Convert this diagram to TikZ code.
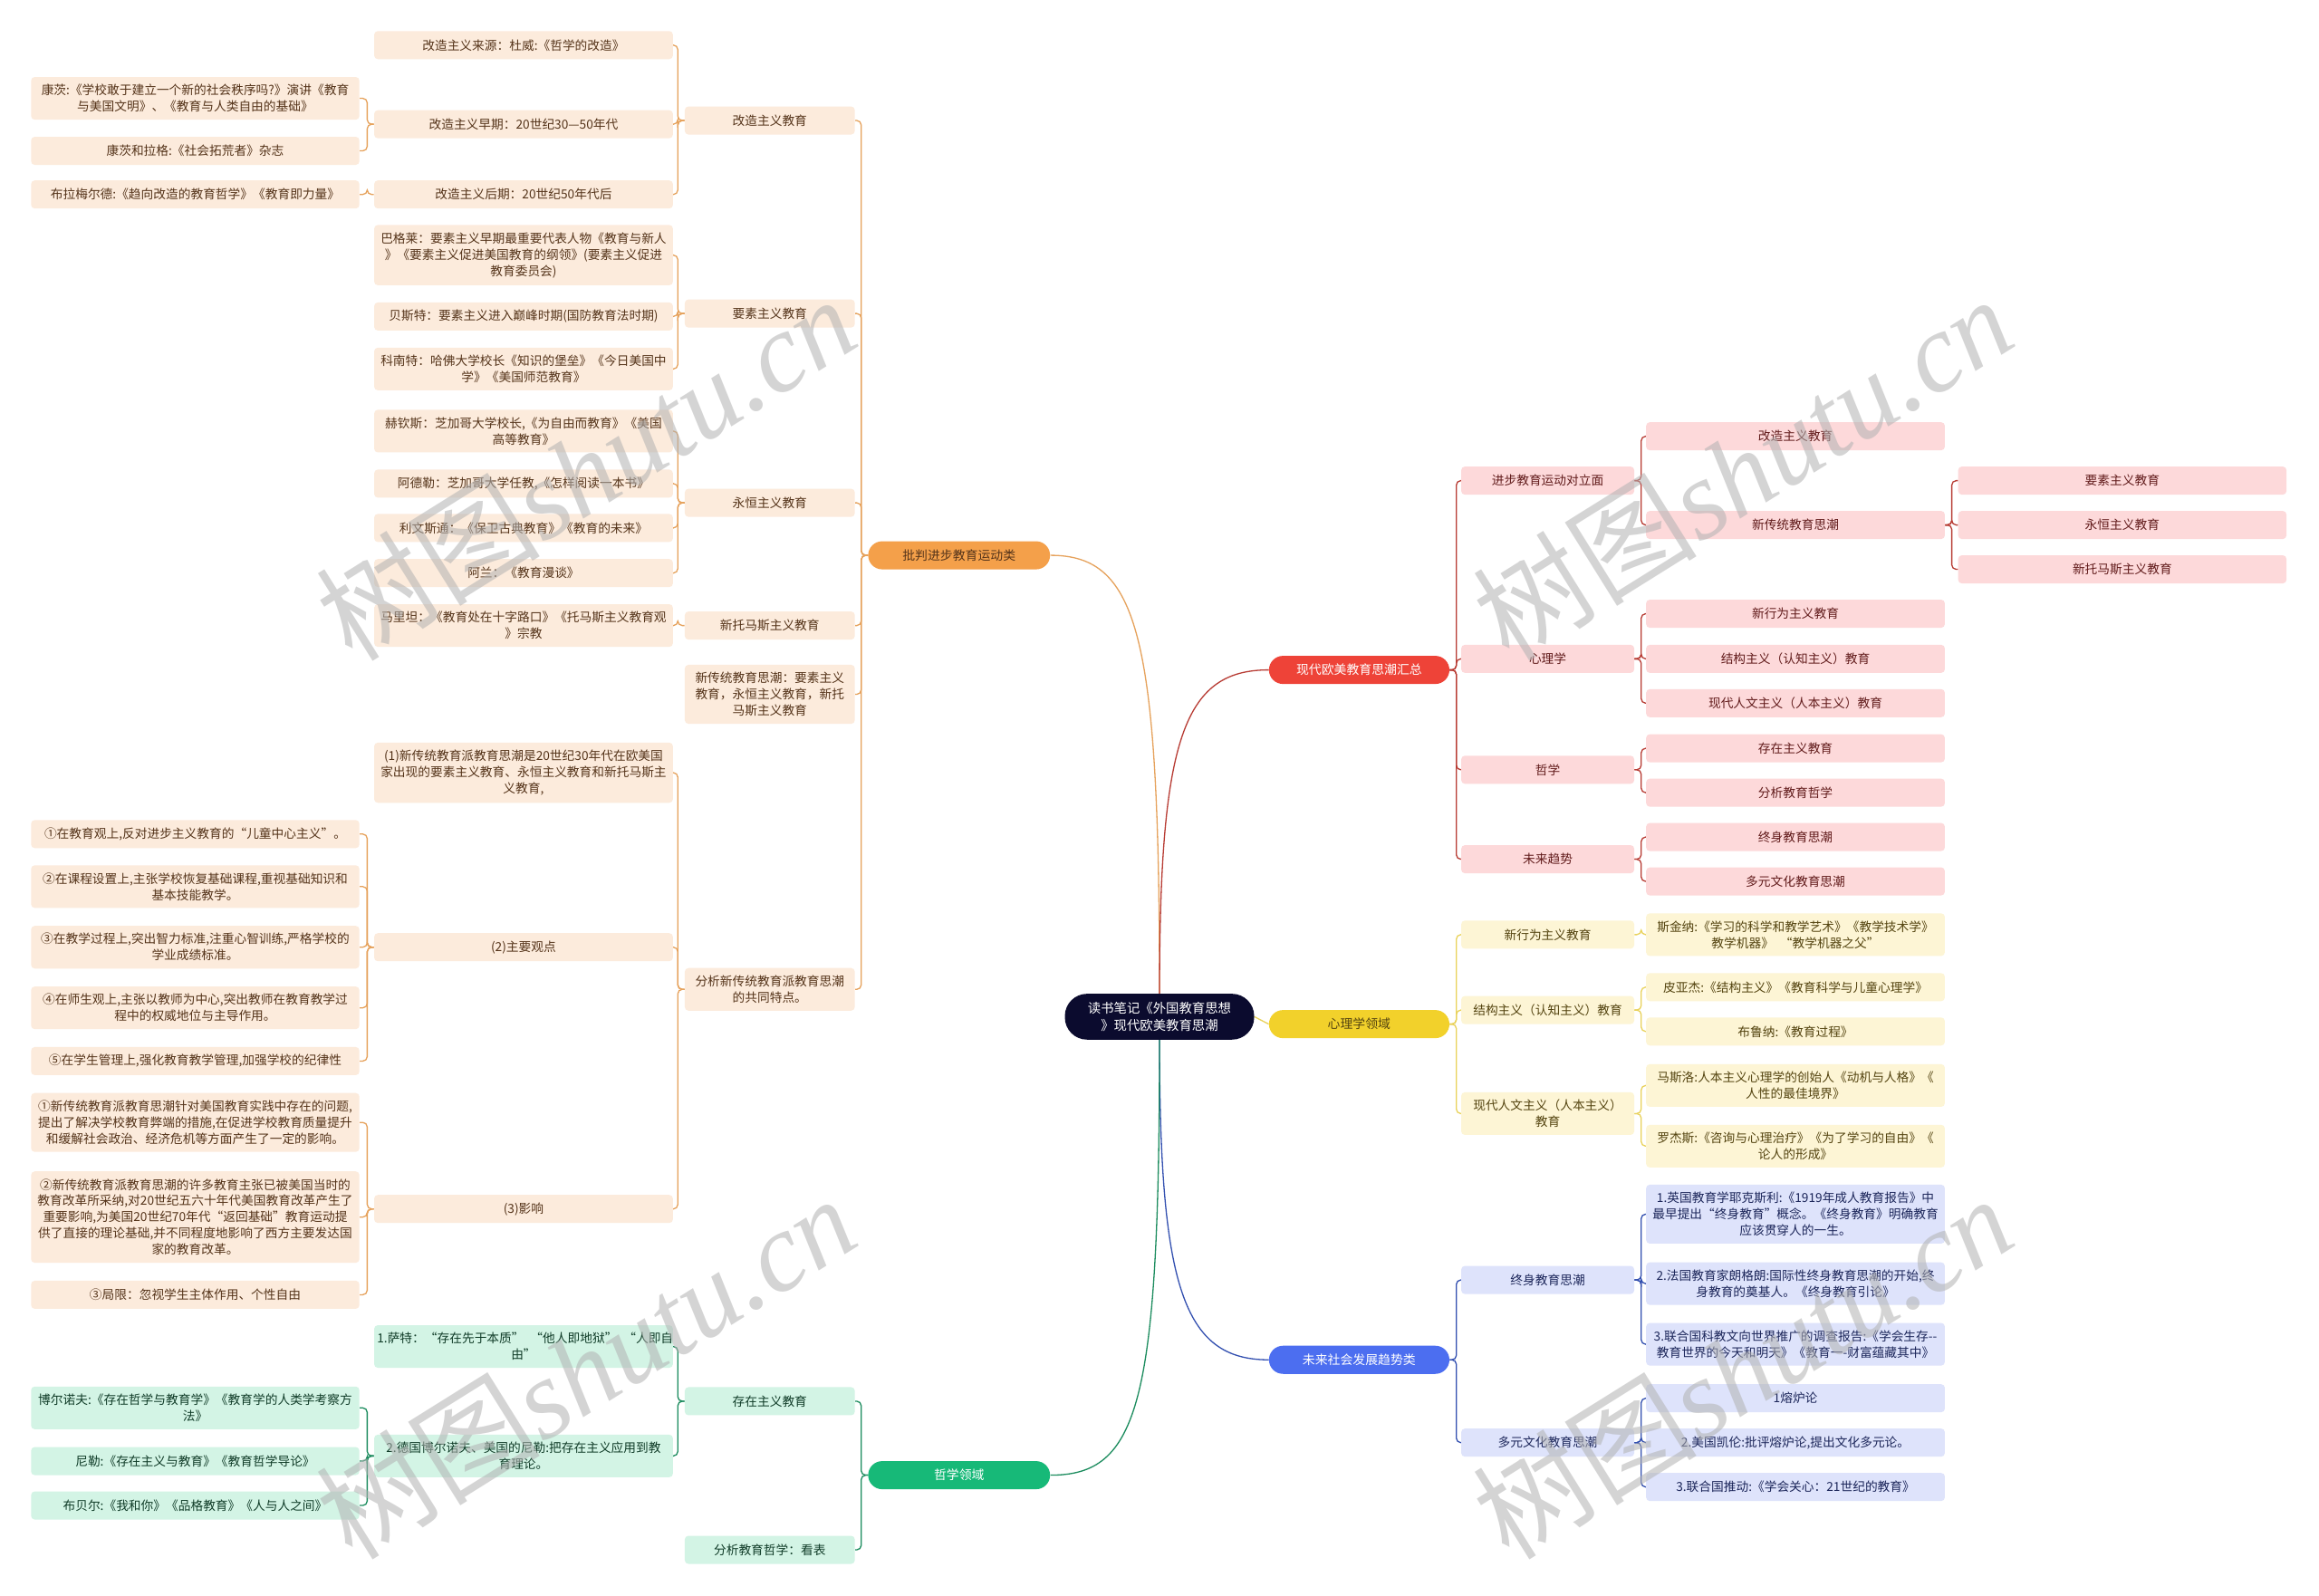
\documentclass[tikz,border=0pt]{standalone}
\usepackage{fontspec}
\newfontfamily\cjk{Noto Sans CJK SC}
\newfontfamily\wmlat{Liberation Serif}
\definecolor{oBox}{HTML}{FCEBDC}
\definecolor{oTxt}{HTML}{55341A}
\definecolor{oLine}{HTML}{E6A25C}
\definecolor{oPill}{HTML}{F4A04A}
\definecolor{rBox}{HTML}{FDD9DA}
\definecolor{rTxt}{HTML}{621C1C}
\definecolor{rLine}{HTML}{B83C34}
\definecolor{rPill}{HTML}{EE4338}
\definecolor{yBox}{HTML}{FDF5D5}
\definecolor{yTxt}{HTML}{544410}
\definecolor{yLine}{HTML}{E9D25B}
\definecolor{yPill}{HTML}{F2D12B}
\definecolor{bBox}{HTML}{DEE3FB}
\definecolor{bTxt}{HTML}{1C265A}
\definecolor{bLine}{HTML}{3350B0}
\definecolor{bPill}{HTML}{4C6EF0}
\definecolor{gBox}{HTML}{D3F4E5}
\definecolor{gTxt}{HTML}{103C28}
\definecolor{gLine}{HTML}{1C8C5E}
\definecolor{gPill}{HTML}{17B978}
\definecolor{rootC}{HTML}{0B0B2E}
\newcommand\Lcon[3]{\draw[#1] (#2.west) -- ++(-4.5,0) |- (#3.east);}
\newcommand\Rcon[3]{\draw[#1] (#2.east) -- ++(4.5,0) |- (#3.west);}
\tikzset{
  base/.style={rounded corners=2.5pt, inner xsep=2pt, inner ysep=5pt, minimum height=19pt, align=center, font=\cjk\fontsize{8.4}{11}\selectfont},
  pill/.style={rounded corners=9.5pt, minimum width=123pt, minimum height=19pt, inner sep=2pt, align=center, font=\cjk\fontsize{8.5}{11}\selectfont},
  ob/.style={base, fill=oBox, text=oTxt},
  rb/.style={base, fill=rBox, text=rTxt},
  yb/.style={base, fill=yBox, text=yTxt},
  bb/.style={base, fill=bBox, text=bTxt},
  gb/.style={base, fill=gBox, text=gTxt},
  LA/.style={text width=218pt},
  LB/.style={text width=198pt},
  LC/.style={text width=111pt},
  RA/.style={text width=113pt},
  RB/.style={text width=198pt},
  RC/.style={text width=218pt},
  oline/.style={draw=oLine, line width=0.8pt, rounded corners=3pt},
  rline/.style={draw=rLine, line width=0.8pt, rounded corners=3pt},
  yline/.style={draw=yLine, line width=0.8pt, rounded corners=3pt},
  bline/.style={draw=bLine, line width=0.8pt, rounded corners=3pt},
  gline/.style={draw=gLine, line width=0.8pt, rounded corners=3pt},
  wmark/.style={rotate=32, text=black!30, opacity=0.55, inner sep=0pt},
}
\begin{document}
\begin{tikzpicture}[x=1pt, y=-1pt]
\useasboundingbox (0,0) rectangle (1568,1079);
\fill[white] (0,0) rectangle (1568,1079);

% root
\node[rounded corners=15pt, fill=rootC, text=white, minimum width=128pt, minimum height=31pt, inner sep=2pt, align=center, font=\cjk\fontsize{8.8}{11.5}\selectfont] (root) at (784,687.5) {读书笔记《外国教育思想\\》现代欧美教育思潮};

% main pills
\node[pill, fill=oPill, text=oTxt] (op) at (648.5,375.5) {批判进步教育运动类};
\node[pill, fill=gPill, text=white] (gp) at (648.5,997.5) {哲学领域};
\node[pill, fill=rPill, text=white, minimum width=122pt] (rp) at (919,453) {现代欧美教育思潮汇总};
\node[pill, fill=yPill, text=yTxt, minimum width=122pt] (yp) at (919,692.5) {心理学领域};
\node[pill, fill=bPill, text=white, minimum width=122pt] (bp) at (919,919.5) {未来社会发展趋势类};

\draw[oline] (root.north) .. controls (784,430) and (770,375.5) .. (op.east);
\draw[rline] (root.north) .. controls (784,500) and (800,453) .. (rp.west);
\draw[yline] (root.east) -- (yp.west);
\draw[bline] (root.south) .. controls (784,870) and (800,919.5) .. (bp.west);
\draw[gline] (root.south) .. controls (784,950) and (770,997.5) .. (gp.east);

% ===== orange branch =====
\node[ob, LC] (o1) at (520.5,81.5) {改造主义教育};
\node[ob, LC] (o2) at (520.5,212) {要素主义教育};
\node[ob, LC] (o3) at (520.5,340) {永恒主义教育};
\node[ob, LC] (o4) at (520.5,423) {新托马斯主义教育};
\node[ob, LC] (o5) at (520.5,469.5) {新传统教育思潮：要素主义\\教育，永恒主义教育，新托\\马斯主义教育};
\node[ob, LC] (o6) at (520.5,669) {分析新传统教育派教育思潮\\的共同特点。};
\foreach \c in {o1,o2,o3,o4,o5,o6} {\Lcon{oline}{op}{\c}}

\node[ob, LB] (o11) at (354,30.5) {改造主义来源：杜威:《哲学的改造》};
\node[ob, LB] (o12) at (354,84) {改造主义早期：20世纪30—50年代};
\node[ob, LB] (o13) at (354,131.5) {改造主义后期：20世纪50年代后};
\foreach \c in {o11,o12,o13} {\Lcon{oline}{o1}{\c}}

\node[ob, LB] (o21) at (354,172.5) {巴格莱：要素主义早期最重要代表人物《教育与新人\\》《要素主义促进美国教育的纲领》(要素主义促进\\教育委员会)};
\node[ob, LB] (o22) at (354,214) {贝斯特：要素主义进入巅峰时期(国防教育法时期)};
\node[ob, LB] (o23) at (354,249.5) {科南特：哈佛大学校长《知识的堡垒》《今日美国中\\学》《美国师范教育》};
\foreach \c in {o21,o22,o23} {\Lcon{oline}{o2}{\c}}

\node[ob, LB] (o31) at (354,291.5) {赫钦斯：芝加哥大学校长,《为自由而教育》《美国\\高等教育》};
\node[ob, LB] (o32) at (354,327) {阿德勒：芝加哥大学任教,《怎样阅读一本书》};
\node[ob, LB] (o33) at (354,357) {利文斯通：《保卫古典教育》《教育的未来》};
\node[ob, LB] (o34) at (354,387.5) {阿兰：《教育漫谈》};
\foreach \c in {o31,o32,o33,o34} {\Lcon{oline}{o3}{\c}}

\node[ob, LB] (o41) at (354,423) {马里坦：《教育处在十字路口》《托马斯主义教育观\\》宗教};
\Lcon{oline}{o4}{o41}

\node[ob, LB] (o61) at (354,522.5) {(1)新传统教育派教育思潮是20世纪30年代在欧美国\\家出现的要素主义教育、永恒主义教育和新托马斯主\\义教育,};
\node[ob, LB] (o62) at (354,640.5) {(2)主要观点};
\node[ob, LB] (o63) at (354,817.5) {(3)影响};
\foreach \c in {o61,o62,o63} {\Lcon{oline}{o6}{\c}}

\node[ob, LA] (o121) at (132,66.5) {康茨:《学校敢于建立一个新的社会秩序吗?》演讲《教育\\与美国文明》、《教育与人类自由的基础》};
\node[ob, LA] (o122) at (132,102) {康茨和拉格:《社会拓荒者》杂志};
\foreach \c in {o121,o122} {\Lcon{oline}{o12}{\c}}
\node[ob, LA] (o131) at (132,131.5) {布拉梅尔德:《趋向改造的教育哲学》《教育即力量》};
\Lcon{oline}{o13}{o131}

\node[ob, LA] (o621) at (132,564) {①在教育观上,反对进步主义教育的“儿童中心主义”。};
\node[ob, LA] (o622) at (132,599.5) {②在课程设置上,主张学校恢复基础课程,重视基础知识和\\基本技能教学。};
\node[ob, LA] (o623) at (132,640.5) {③在教学过程上,突出智力标准,注重心智训练,严格学校的\\学业成绩标准。};
\node[ob, LA] (o624) at (132,681.5) {④在师生观上,主张以教师为中心,突出教师在教育教学过\\程中的权威地位与主导作用。};
\node[ob, LA] (o625) at (132,717.5) {⑤在学生管理上,强化教育教学管理,加强学校的纪律性};
\foreach \c in {o621,o622,o623,o624,o625} {\Lcon{oline}{o62}{\c}}

\node[ob, LA] (o631) at (132,759) {①新传统教育派教育思潮针对美国教育实践中存在的问题,\\提出了解决学校教育弊端的措施,在促进学校教育质量提升\\和缓解社会政治、经济危机等方面产生了一定的影响。};
\node[ob, LA] (o632) at (132,823) {②新传统教育派教育思潮的许多教育主张已被美国当时的\\教育改革所采纳,对20世纪五六十年代美国教育改革产生了\\重要影响,为美国20世纪70年代“返回基础”教育运动提\\供了直接的理论基础,并不同程度地影响了西方主要发达国\\家的教育改革。};
\node[ob, LA] (o633) at (132,875.5) {③局限：忽视学生主体作用、个性自由};
\foreach \c in {o631,o632,o633} {\Lcon{oline}{o63}{\c}}

% ===== green branch =====
\node[gb, LC] (g1) at (520.5,947.5) {存在主义教育};
\node[gb, LC] (g2) at (520.5,1048) {分析教育哲学：看表};
\foreach \c in {g1,g2} {\Lcon{gline}{gp}{\c}}
\node[gb, LB] (g11) at (354,910.5) {1.萨特：“存在先于本质”\enspace“他人即地狱”\enspace“人即自\\由”};
\node[gb, LB] (g12) at (354,984.5) {2.德国博尔诺夫、美国的尼勒:把存在主义应用到教\\育理论。};
\foreach \c in {g11,g12} {\Lcon{gline}{g1}{\c}}
\node[gb, LA] (g121) at (132,952) {博尔诺夫:《存在哲学与教育学》《教育学的人类学考察方\\法》};
\node[gb, LA] (g122) at (132,988) {尼勒:《存在主义与教育》《教育哲学导论》};
\node[gb, LA] (g123) at (132,1018) {布贝尔:《我和你》《品格教育》《人与人之间》};
\foreach \c in {g121,g122,g123} {\Lcon{gline}{g12}{\c}}

% ===== red branch =====
\node[rb, RA] (r1) at (1046.5,325) {进步教育运动对立面};
\node[rb, RA] (r2) at (1046.5,445.5) {心理学};
\node[rb, RA] (r3) at (1046.5,520.5) {哲学};
\node[rb, RA] (r4) at (1046.5,581) {未来趋势};
\foreach \c in {r1,r2,r3,r4} {\Rcon{rline}{rp}{\c}}
\node[rb, RB] (r11) at (1214,295) {改造主义教育};
\node[rb, RB] (r12) at (1214,355) {新传统教育思潮};
\foreach \c in {r11,r12} {\Rcon{rline}{r1}{\c}}
\node[rb, RB] (r21) at (1214,415) {新行为主义教育};
\node[rb, RB] (r22) at (1214,445.5) {结构主义（认知主义）教育};
\node[rb, RB] (r23) at (1214,475.5) {现代人文主义（人本主义）教育};
\foreach \c in {r21,r22,r23} {\Rcon{rline}{r2}{\c}}
\node[rb, RB] (r31) at (1214,506) {存在主义教育};
\node[rb, RB] (r32) at (1214,536) {分析教育哲学};
\foreach \c in {r31,r32} {\Rcon{rline}{r3}{\c}}
\node[rb, RB] (r41) at (1214,566) {终身教育思潮};
\node[rb, RB] (r42) at (1214,596) {多元文化教育思潮};
\foreach \c in {r41,r42} {\Rcon{rline}{r4}{\c}}
\node[rb, RC] (r121) at (1435,325) {要素主义教育};
\node[rb, RC] (r122) at (1435,355) {永恒主义教育};
\node[rb, RC] (r123) at (1435,385) {新托马斯主义教育};
\foreach \c in {r121,r122,r123} {\Rcon{rline}{r12}{\c}}

% ===== yellow branch =====
\node[yb, RA] (y1) at (1046.5,632) {新行为主义教育};
\node[yb, RA] (y2) at (1046.5,683) {结构主义（认知主义）教育};
\node[yb, RA] (y3) at (1046.5,753) {现代人文主义（人本主义）\\教育};
\foreach \c in {y1,y2,y3} {\Rcon{yline}{yp}{\c}}
\node[yb, RB] (y11) at (1214,632) {斯金纳:《学习的科学和教学艺术》《教学技术学》\\教学机器》\enspace“教学机器之父”};
\Rcon{yline}{y1}{y11}
\node[yb, RB] (y21) at (1214,667.5) {皮亚杰:《结构主义》《教育科学与儿童心理学》};
\node[yb, RB] (y22) at (1214,697.5) {布鲁纳:《教育过程》};
\foreach \c in {y21,y22} {\Rcon{yline}{y2}{\c}}
\node[yb, RB] (y31) at (1214,734) {马斯洛:人本主义心理学的创始人《动机与人格》《\\人性的最佳境界》};
\node[yb, RB] (y32) at (1214,775) {罗杰斯:《咨询与心理治疗》《为了学习的自由》《\\论人的形成》};
\foreach \c in {y31,y32} {\Rcon{yline}{y3}{\c}}

% ===== blue branch =====
\node[bb, RA] (u1) at (1046.5,865.5) {终身教育思潮};
\node[bb, RA] (u2) at (1046.5,975.5) {多元文化教育思潮};
\foreach \c in {u1,u2} {\Rcon{bline}{bp}{\c}}
\node[bb, RB] (u11) at (1214,821) {1.英国教育学耶克斯利:《1919年成人教育报告》中\\最早提出“终身教育”概念。《终身教育》明确教育\\应该贯穿人的一生。};
\node[bb, RB] (u12) at (1214,868) {2.法国教育家朗格朗:国际性终身教育思潮的开始,终\\身教育的奠基人。《终身教育引论》};
\node[bb, RB] (u13) at (1214,909) {3.联合国科教文向世界推广的调查报告:《学会生存--\\教育世界的今天和明天》《教育一-财富蕴藏其中》};
\foreach \c in {u11,u12,u13} {\Rcon{bline}{u1}{\c}}
\node[bb, RB] (u21) at (1214,945.5) {1熔炉论};
\node[bb, RB] (u22) at (1214,975.5) {2.美国凯伦:批评熔炉论,提出文化多元论。};
\node[bb, RB] (u23) at (1214,1005.5) {3.联合国推动:《学会关心：21世纪的教育》};
\foreach \c in {u21,u22,u23} {\Rcon{bline}{u2}{\c}}

% ===== watermarks =====
\foreach \n/\p in {w1/{(396,316)}, w2/{(1178,316)}, w3/{(396,924)}, w4/{(1178,924)}} {
  \node[wmark] (\n) at \p {\cjk\fontsize{76}{76}\selectfont 树图\wmlat\itshape shutu.cn};
}
\end{tikzpicture}
\end{document}
